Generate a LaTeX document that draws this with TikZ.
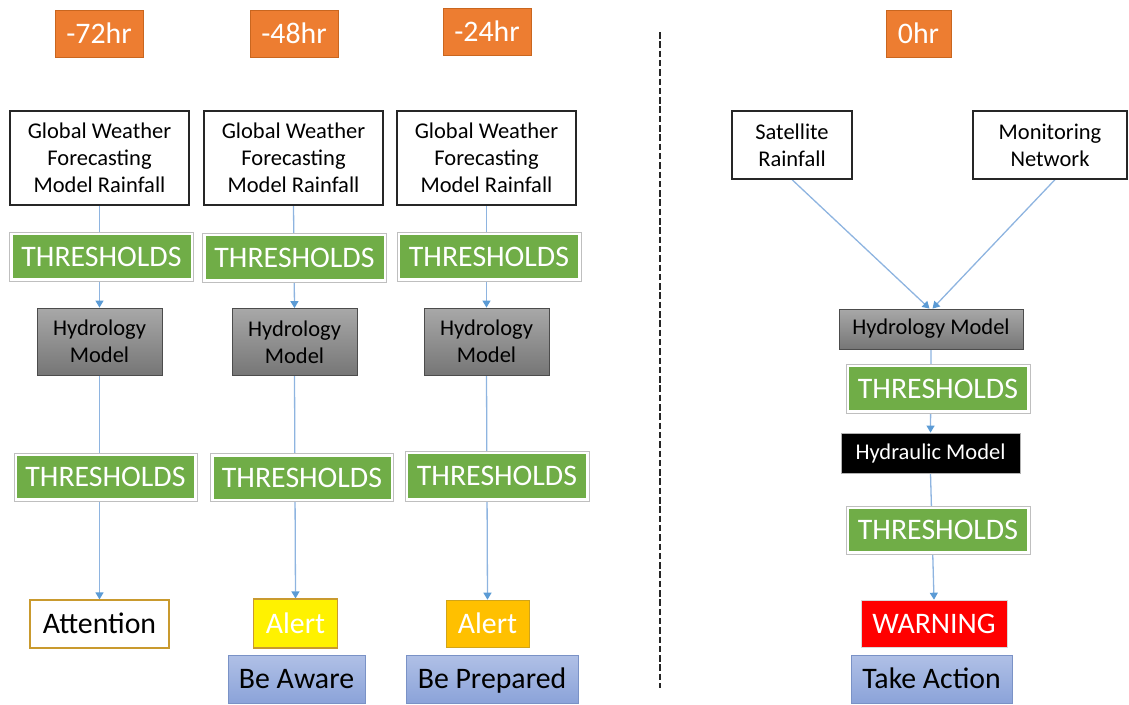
\documentclass[tikz,border=0pt]{standalone}
\usepackage{fontspec}
\setmainfont{Carlito}
\usetikzlibrary{arrows.meta}
\definecolor{orng}{HTML}{ED7D31}
\definecolor{orngdk}{HTML}{C9661F}
\definecolor{tgreen}{HTML}{70AD47}
\definecolor{gtop}{HTML}{A8A8A8}
\definecolor{gbot}{HTML}{767676}
\definecolor{btop}{HTML}{B0C0E6}
\definecolor{bbot}{HTML}{8BA3D9}
\definecolor{bdraw}{HTML}{7A92C6}
\definecolor{linec}{HTML}{8EB4E0}
\definecolor{tipc}{HTML}{5B9BD5}
\definecolor{gold}{HTML}{C99A2E}
\definecolor{alertor}{HTML}{FFC000}
\pgfdeclarelayer{bg}
\pgfsetlayers{bg,main}
\begin{document}
\begin{tikzpicture}[x=1pt,y=-1pt,
  every node/.style={inner sep=0pt, align=center},
  small/.style={font=\fontsize{22.5}{27}\selectfont},
  big/.style={font=\fontsize{29.8}{30}\selectfont, text height=19.5pt, text depth=0pt},
  hdr/.style={big, fill=orng, draw=orngdk, line width=0.6pt, text=white, minimum height=47pt},
  gwf/.style={small, draw=black!85, line width=1.2pt, fill=white, minimum width=179pt, minimum height=94pt},
  src/.style={small, draw=black!85, line width=1.2pt, fill=white, minimum height=68pt},
  thr/.style={big, fill=white, draw=black!25, line width=0.6pt, text=white,
     minimum width=184pt, minimum height=49pt,
     path picture={\fill[tgreen] ([shift={(3pt,-3pt)}]path picture bounding box.north west) rectangle ([shift={(-3pt,3pt)}]path picture bounding box.south east);}},
  hyd/.style={small, draw=black!70, line width=0.8pt, top color=gtop, bottom color=gbot, text=black},
  hydr/.style={small, draw=black!30, line width=0.8pt, fill=black, text=white, minimum width=179pt, minimum height=40pt},
  act/.style={big, draw=bdraw, line width=0.8pt, top color=btop, bottom color=bbot, text=black, minimum height=48pt},
  arr/.style={draw=linec, line width=1.3pt, -{Triangle[width=8pt,length=7pt,color=tipc]}},
  ln/.style={draw=linec, line width=1.3pt}
]
\useasboundingbox (0,0) rectangle (1129,704);

% headers
\node[hdr, minimum width=88pt] (t72) at (99,33.5) {-72hr};
\node[hdr, minimum width=88pt] (t48) at (294,33.5) {-48hr};
\node[hdr, minimum width=88pt] (t24) at (487,32) {-24hr};
\node[hdr, minimum width=65pt] (t0) at (918.5,33.5) {0hr};

% column 1
\node[gwf] (g1) at (99.5,158) {Global Weather\\Forecasting\\Model Rainfall};
\node[thr] (ta1) at (101.5,256.5) {THRESHOLDS};
\node[hyd, minimum width=125pt, minimum height=67pt] (h1) at (99.5,341.5) {Hydrology\\Model};
\node[thr, minimum width=183pt, minimum height=48pt] (tb1) at (105.5,477) {THRESHOLDS};
\node[big, draw=gold, line width=1.2pt, fill=white, minimum width=139pt, minimum height=48pt] (at1) at (99.5,624) {Attention};

% column 2
\node[gwf] (g2) at (293.5,158) {Global Weather\\Forecasting\\Model Rainfall};
\node[thr] (ta2) at (294.5,257.5) {THRESHOLDS};
\node[hyd, minimum width=125pt, minimum height=67pt] (h2) at (294.5,342) {Hydrology\\Model};
\node[thr, minimum width=183pt, minimum height=48pt] (tb2) at (302,477.5) {THRESHOLDS};
\node[big, draw=gold, line width=1.2pt, fill=yellow, text=white, minimum width=84pt, minimum height=49pt] (al2) at (295.5,623.5) {Alert};
\node[act, minimum width=137pt] (ba2) at (296.5,679) {Be Aware};

% column 3
\node[gwf] (g3) at (486.5,158) {Global Weather\\Forecasting\\Model Rainfall};
\node[thr] (ta3) at (489,256.5) {THRESHOLDS};
\node[hyd, minimum width=125pt, minimum height=67pt] (h3) at (486.5,341.5) {Hydrology\\Model};
\node[thr, minimum width=184pt, minimum height=50pt] (tb3) at (497,476) {THRESHOLDS};
\node[big, draw=alertor!80!black!90, line width=0.6pt, fill=alertor, text=white, minimum width=83pt, minimum height=47pt] (al3) at (487.5,623.5) {Alert};
\node[act, minimum width=172pt] (bp3) at (492,679) {Be Prepared};

% divider
\coordinate (d1) at (660,32);
\coordinate (d2) at (660,688);
\draw[black!85, line width=2pt, dash pattern=on 6.5pt off 2.8pt] (d1) -- (d2);

% right column
\node[src, minimum width=120pt] (sat) at (792,145) {Satellite\\Rainfall};
\node[src, minimum width=154pt] (mon) at (1050,145) {Monitoring\\Network};
\node[hyd, minimum width=184pt, minimum height=40pt] (hr) at (931,329) {Hydrology Model};
\node[thr] (tr1) at (938,388.5) {THRESHOLDS};
\node[hydr] (hdl) at (930.5,453) {Hydraulic Model};
\node[thr, minimum height=48pt] (tr2) at (938,530) {THRESHOLDS};
\node[big, draw=black!15, line width=0.6pt, fill=red, text=white, minimum width=146pt, minimum height=47pt] (warn) at (934,623.5) {WARNING};
\node[act, minimum width=161pt] (ta) at (931.5,679) {Take Action};

% connectors
\begin{pgfonlayer}{bg}
\draw[arr] (g1.south) -- (h1.north);
\draw[arr] (h1.south) -- (at1.north);
\draw[arr] (g2.south) -- (h2.north);
\draw[arr] (h2.south) -- (al2.north);
\draw[arr] (g3.south) -- (h3.north);
\draw[arr] (h3.south) -- (al3.north);
\draw[arr] (sat.south) -- ([xshift=-1.5pt]hr.north);
\draw[arr] ([xshift=5pt]mon.south) -- ([xshift=1.5pt]hr.north);
\draw[arr] (hr.south) -- (hdl.north);
\draw[arr] (hdl.south) -- (warn.north);
\end{pgfonlayer}
\end{tikzpicture}
\end{document}
